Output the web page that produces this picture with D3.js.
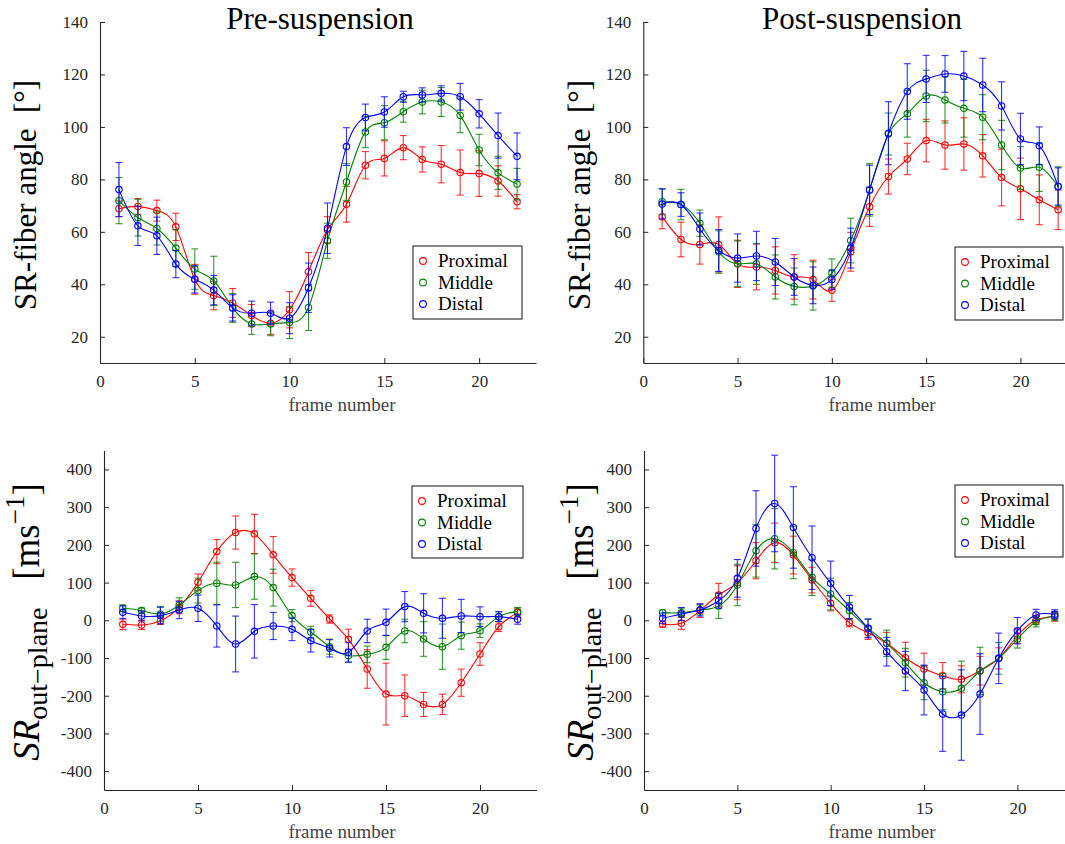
<!DOCTYPE html>
<html><head><meta charset="utf-8">
<script src="https://cdn.jsdelivr.net/npm/d3@7"></script>
<style>
body{margin:0;background:#fff}
svg, svg text, svg tspan{font-family:"Liberation Serif","Times New Roman",serif !important}
</style>
</head><body>
<svg id="chart" width="1065" height="844" font-family="Liberation Serif, serif"></svg>
<script>
// ---------- data ----------
const frames = [1,2,3,4,5,6,7,8,9,10,11,12,13,14,15,16,17,18,19,20,21,22];
const seriesNames = ["Proximal","Middle","Distal"];
const seriesColors = ["#ff0000","#008000","#0000ff"];
const xTickValues = [0,5,10,15,20];
const angleTickValues = [20,40,60,80,100,120,140];
const srTickValues = [-400,-300,-200,-100,0,100,200,300,400];
const panelTitles = ["Pre-suspension","Post-suspension"];
const xAxisLabel = "frame number";

// Pre-suspension, SR-fiber angle (deg)
const preAngleProximal = [68.8,69.7,68.1,61.9,41.9,35.7,32.9,28.1,25.2,30.3,44.8,60.8,70.5,85.4,88.0,92.1,87.6,85.8,82.6,82.2,79.4,71.5];
const preAngleProximalErr = [3,3,4,5.2,5.7,5.4,5.5,4.2,4.3,6.9,7.3,5,6.8,5.2,6.7,4.6,4.8,7.1,8.6,8.7,5.8,2.7];
const preAngleMiddle = [71.9,65.4,61.3,53.8,45.8,41.3,31.0,24.9,24.9,25.4,31.2,56.6,79.0,98.1,101.6,105.8,109.5,109.5,104.4,91.2,82.5,78.2];
const preAngleMiddleErr = [8.8,7,6.3,7,7.7,9.4,5.5,4,4.5,6.1,8.8,6.7,7,6,6.5,4,4.5,5.5,6.6,6,6.3,6];
const preAngleDistal = [76.1,62.3,58.5,47.7,41.9,37.8,31.0,29.0,29.0,27.1,38.7,61.4,92.5,103.6,105.7,111.5,112.2,112.8,111.5,105.0,96.7,88.8];
const preAngleDistalErr = [10.3,7.5,7.1,5.2,5.2,5.6,5,4.6,4.2,5.9,9.4,9.6,7.2,5.1,5.8,2.1,2.7,2.9,5.1,5.4,8.6,8.9];

// Post-suspension, SR-fiber angle (deg)
const postAngleProximal = [65.8,57.1,55.2,55.2,47.8,46.6,45.3,42.8,41.8,37.7,52.4,69.6,81.1,87.8,94.8,93.1,93.5,89.0,80.7,76.4,72.2,68.4];
const postAngleProximalErr = [4.6,6.6,7.5,10.5,9,8.7,9,8.5,7.4,4.2,7.4,7.5,6.7,6,8.1,9.2,10,8.1,10.8,11.7,9.5,7.5];
const postAngleMiddle = [71.5,70.4,63.3,52.3,47.8,47.8,42.8,39.2,39.4,44.3,56.7,76.0,97.3,105.0,111.8,110.3,107.1,103.7,93.1,84.3,84.6,77.3];
const postAngleMiddleErr = [5,5.8,5,8.1,8.7,7.8,8.4,7,9.2,5.4,8.5,10,8,8.9,9.8,8.8,11,8.6,9.4,8.2,9.2,7.5];
const postAngleDistal = [70.6,70.4,61.1,52.9,50.0,50.8,48.5,42.8,39.6,41.8,53.8,76.0,97.6,113.5,118.3,120.2,119.4,116.0,108.0,95.4,92.8,77.3];
const postAngleDistalErr = [5.7,4.5,6.1,8,9.2,9.4,9,7,7,3.7,7.6,9.4,12,10.6,9,7,9.4,10.2,9.2,9.8,7.2,7.1];

// Pre-suspension, SR out-of-plane (ms^-1)
const preSRProximal = [-10.6,-12.4,-1,34.5,100.9,182.3,232.7,229.2,173.5,113.3,58.4,3.5,-50.4,-129.2,-195.6,-200,-223,-223,-165.5,-89.4,-16.8,20.4];
const preSRProximalErr = [14,12,10,17,22,32,44,52,48.7,23,21,11,27,51,82,55,32,27,36,30,13,12];
const preSRMiddle = [31.9,25.7,16.8,40.7,78.8,98.2,93.8,115.9,86.7,12.4,-31,-69.9,-93.8,-90.3,-71.7,-28.3,-49.6,-69.9,-40.7,-27.4,9.7,23];
const preSRMiddleErr = [9,7,20,19,33,56,60,60,49,16,15,20,17,22,32,31,46,60,36,18,13,11];
const preSRDistal = [21.2,11.5,12.4,27.4,31.9,-15,-62.8,-29.2,-15,-23.9,-54,-74.3,-85,-28.3,-5.3,36.3,18.6,5.3,11.5,9.7,9.7,2.7];
const preSRDistalErr = [17,13,22,23,35,56,74,71,36,30,30,23,26,31,35,40,52,53,44,26,13,13];

// Post-suspension, SR out-of-plane (ms^-1)
const postSRProximal = [-10.6,-7.9,25.6,67,99.7,158,205.6,173,106.8,45,-6.2,-32.8,-61,-99.2,-129.2,-146.9,-156.6,-133.6,-100.9,-41.6,0.8,9.6];
const postSRProximalErr = [8,16,18,31,45,48,52,50,34,20,11,18,29,41,42,35,36,38,28,19,12,12];
const postSRMiddle = [20.3,20.3,27.4,38,93.6,184.5,216.2,179.2,113.9,69.7,25,-21.3,-61,-112.4,-165.5,-189.3,-180.4,-134.5,-100.9,-49.6,-3.6,11.4];
const postSRMiddleErr = [8,12,13,33,55,70,80,69,48,42,22,24,35,38,45,48,72,63,42,24,14,12];
const postSRDistal = [5.3,16.8,27.4,52,111.2,243.6,309.8,246.2,166,98,35,-21.3,-83.2,-134.5,-184.9,-248.5,-251.2,-195.5,-100.9,-27.6,14.1,15.9];
const postSRDistalErr = [14,17,16,20,50,100,128,108,84,59,31,25,38,52,66,99,120,107,67,35,15,12];

// ---------- layout ----------
const FONT = "'Liberation Serif', 'Times New Roman', serif";
const axisColor = "#262626";
const panels = [
  {vals:[preAngleProximal,preAngleMiddle,preAngleDistal], errs:[preAngleProximalErr,preAngleMiddleErr,preAngleDistalErr],
   yDomain:[10,140], yTicks:angleTickValues, xr:[100,536], yr:[363,22], title:panelTitles[0], titleX:320,
   legend:{x:413,y:246,w:109,h:73}, ylab:"angle", ylabX:36, ylabY:195, xlabX:342},
  {vals:[postAngleProximal,postAngleMiddle,postAngleDistal], errs:[postAngleProximalErr,postAngleMiddleErr,postAngleDistalErr],
   yDomain:[10,140], yTicks:angleTickValues, xr:[643.3,1077], yr:[363,22], title:panelTitles[1], titleX:862,
   legend:{x:955,y:247,w:108,h:73}, ylab:"angle", ylabX:590, ylabY:195, xlabX:882},
  {vals:[preSRProximal,preSRMiddle,preSRDistal], errs:[preSRProximalErr,preSRMiddleErr,preSRDistalErr],
   yDomain:[-450,450], yTicks:srTickValues, xr:[104,536.4], yr:[790,450.6], title:null,
   legend:{x:412,y:486,w:111,h:72}, ylab:"sr", ylabX:39, ylabY:622, xlabX:342},
  {vals:[postSRProximal,postSRMiddle,postSRDistal], errs:[postSRProximalErr,postSRMiddleErr,postSRDistalErr],
   yDomain:[-450,450], yTicks:srTickValues, xr:[644,1073.4], yr:[790,450.6], title:null,
   legend:{x:955,y:485,w:108,h:72}, ylab:"sr", ylabX:593, ylabY:622, xlabX:882}
];

const svg = d3.select("#chart");
svg.append("rect").attr("width",1065).attr("height",844).attr("fill","#fff");

panels.forEach(p => {
  const x = d3.scaleLinear().domain([0,23]).range(p.xr);
  const y = d3.scaleLinear().domain(p.yDomain).range(p.yr);
  const g = svg.append("g");

  // axes
  const xAxis = d3.axisBottom(x).tickValues(xTickValues).tickSizeInner(-5).tickSizeOuter(0).tickPadding(12);
  const gx = g.append("g").attr("transform",`translate(0,${p.yr[0]})`).call(xAxis);
  const yAxis = d3.axisLeft(y).tickValues(p.yTicks).tickSizeInner(-5).tickSizeOuter(0).tickPadding(12);
  const gy = g.append("g").attr("transform",`translate(${p.xr[0]},0)`).call(yAxis);
  [gx,gy].forEach(a => {
    a.attr("font-family",null).style("font-family",FONT);
    a.select(".domain").attr("stroke",axisColor).attr("stroke-width",1.1);
    a.selectAll(".tick line").attr("stroke",axisColor);
    a.selectAll(".tick text").attr("fill",axisColor).attr("font-size",17).style("font-family",FONT);
  });
  gx.selectAll(".tick text").attr("dy","0.71em");
  gy.selectAll(".tick text").text(d => String(d).replace("\u2212","-"));

  // x label
  g.append("text").attr("x",p.xlabX).attr("y",p.yr[0]+48).attr("text-anchor","middle").style("font-family",FONT)
    .attr("font-size",19).attr("fill","#444").text(xAxisLabel);

  // title
  if (p.title) {
    g.append("text").attr("x",p.titleX).attr("y",29).attr("text-anchor","middle").style("font-family",FONT)
      .attr("font-size",31).attr("fill","#000").text(p.title);
  }

  // y label
  const yl = g.append("text").attr("transform",`translate(${p.ylabX},${p.ylabY}) rotate(-90)`)
    .attr("text-anchor","middle").attr("fill","#000").style("font-family",FONT);
  if (p.ylab === "angle") {
    yl.attr("font-size",31).text("SR-fiber angle\u00a0\u00a0[\u00b0]");
  } else {
    yl.attr("font-size",37);
    yl.append("tspan").attr("font-style","italic").text("SR");
    yl.append("tspan").attr("font-size",28).attr("dy",8).text("out\u2212plane");
    yl.append("tspan").attr("dy",-8).text("\u00a0\u00a0\u00a0[ms");
    yl.append("tspan").attr("font-size",27).attr("dy",-15).text("\u22121");
    yl.append("tspan").attr("dy",15).text("]");
  }

  // series
  p.vals.forEach((vals,si) => {
    const col = seriesColors[si];
    const pts = frames.map((f,i) => ({f, v:vals[i], e:p.errs[si][i]}));
    const sg = g.append("g");
    // error bars
    const eb = sg.selectAll(".eb").data(pts).enter().append("g").attr("stroke",col).attr("stroke-opacity",0.8).attr("stroke-width",1.1);
    eb.append("line").attr("x1",d=>x(d.f)).attr("x2",d=>x(d.f)).attr("y1",d=>y(d.v-d.e)).attr("y2",d=>y(d.v+d.e));
    eb.append("line").attr("x1",d=>x(d.f)-3.5).attr("x2",d=>x(d.f)+3.5).attr("y1",d=>y(d.v-d.e)).attr("y2",d=>y(d.v-d.e));
    eb.append("line").attr("x1",d=>x(d.f)-3.5).attr("x2",d=>x(d.f)+3.5).attr("y1",d=>y(d.v+d.e)).attr("y2",d=>y(d.v+d.e));
    // spline
    const line = d3.line().x(d=>x(d.f)).y(d=>y(d.v)).curve(d3.curveNatural);
    sg.append("path").datum(pts).attr("d",line).attr("fill","none").attr("stroke",col).attr("stroke-width",1.1);
    // markers
    sg.selectAll("circle").data(pts).enter().append("circle")
      .attr("cx",d=>x(d.f)).attr("cy",d=>y(d.v)).attr("r",3.2)
      .attr("fill","none").attr("stroke",col).attr("stroke-width",1.1);
  });

  // legend
  const L = p.legend;
  const lg = g.append("g");
  lg.append("rect").attr("x",L.x).attr("y",L.y).attr("width",L.w).attr("height",L.h)
    .attr("fill","#fff").attr("stroke",axisColor).attr("stroke-width",1.1);
  seriesNames.forEach((name,i) => {
    const cy = L.y + 15 + i*21.5;
    lg.append("circle").attr("cx",L.x+10).attr("cy",cy).attr("r",3.4)
      .attr("fill","none").attr("stroke",seriesColors[i]).attr("stroke-width",1.1);
    lg.append("text").attr("x",L.x+25).attr("y",cy+6).attr("font-size",19).style("font-family",FONT)
      .attr("fill","#000").text(name);
  });
});
</script>
</body></html>
